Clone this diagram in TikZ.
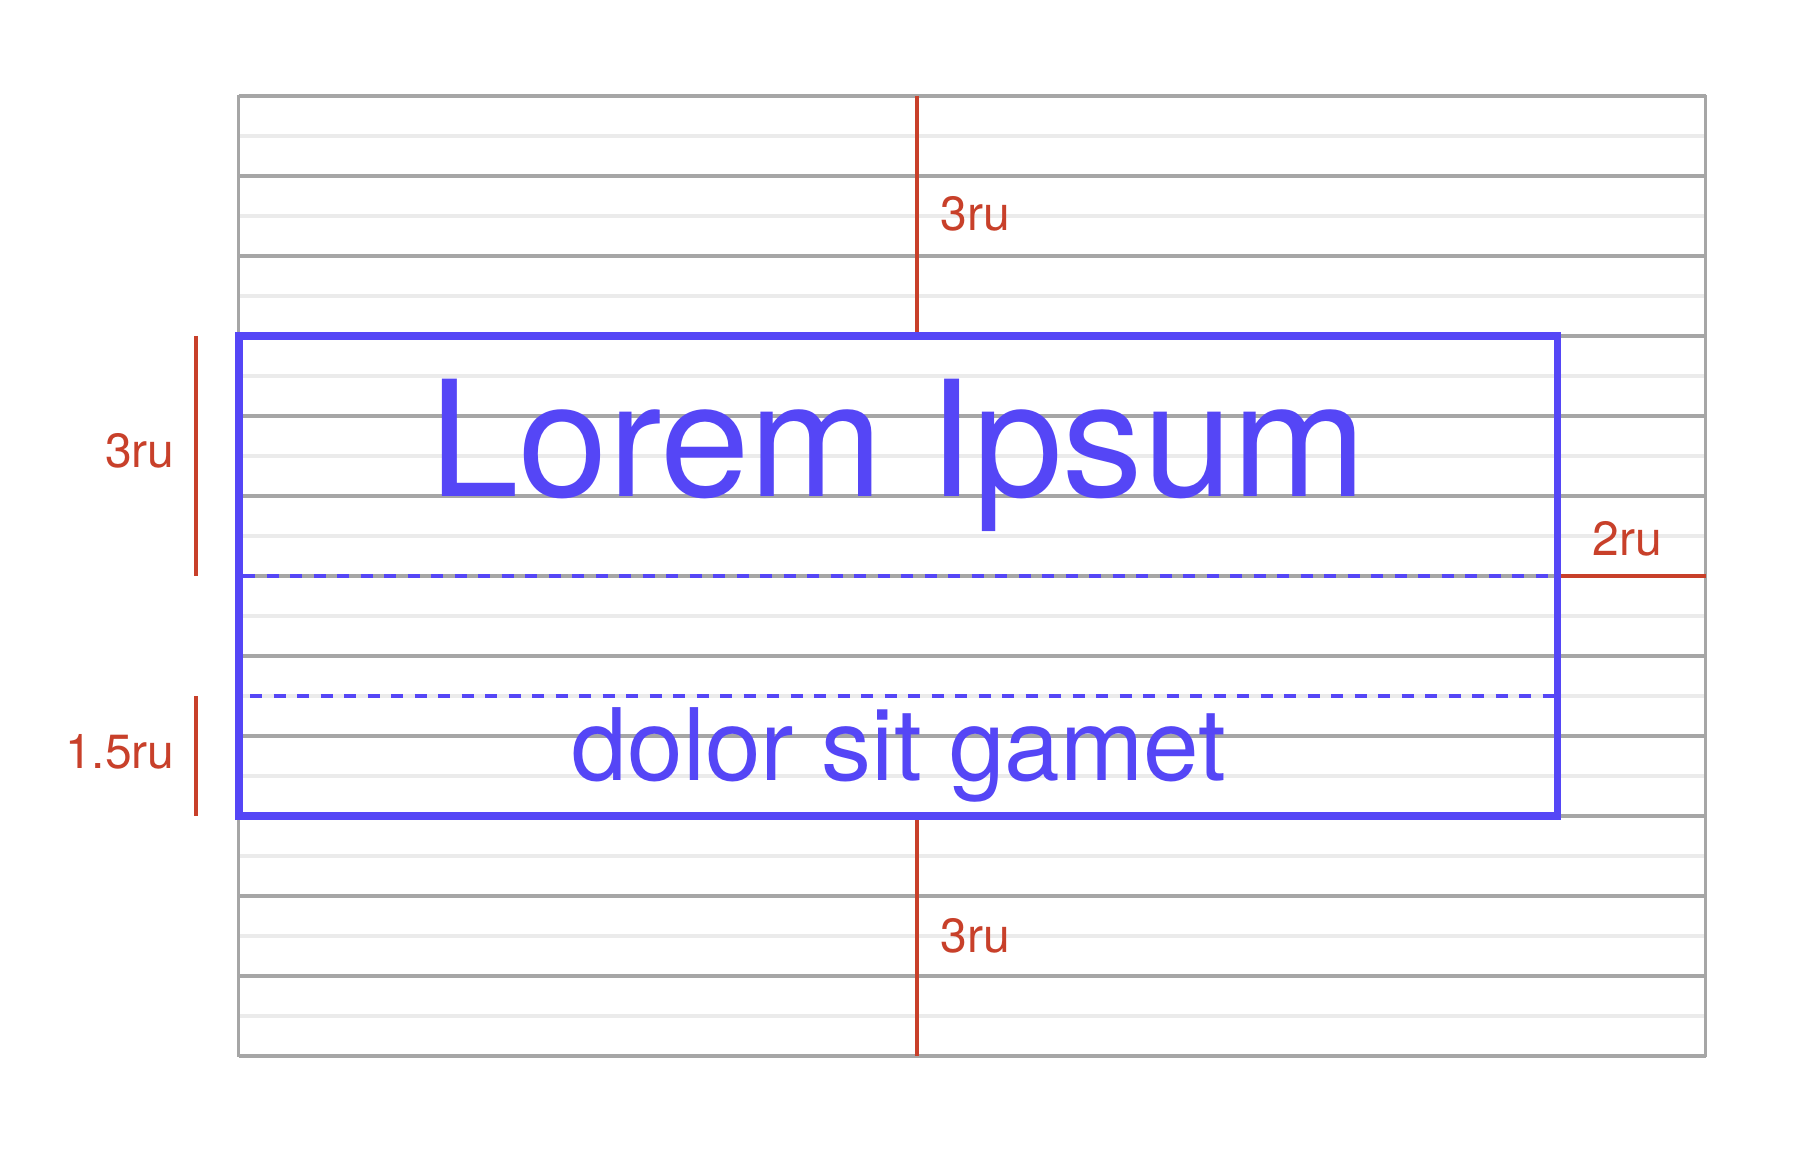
\documentclass[tikz,border=0pt]{standalone}
\usepackage{fontspec}
\setmainfont{TeX Gyre Heros}
\definecolor{gridDark}{HTML}{A6A6A6}
\definecolor{gridLight}{HTML}{EBEBEB}
\definecolor{measRed}{HTML}{C8402A}
\definecolor{boxBlue}{HTML}{5546F6}
\tikzset{
  majorline/.style={draw=gridDark, line width=1.7pt},
  minorline/.style={draw=gridLight, line width=1.7pt},
  measure/.style={draw=measRed, line width=2pt},
  measlabel/.style={text=measRed, font=\fontsize{24}{28}\selectfont, inner sep=0pt},
  textbox/.style={draw=boxBlue, line width=3.75pt},
  baseline guide/.style={draw=boxBlue, line width=1.8pt, dash pattern=on 6pt off 5.75pt},
}
\begin{document}
\begin{tikzpicture}[x=0.5pt, y=-0.5pt]
\useasboundingbox (0,0) rectangle (1802,1154);
\fill[white] (0,0) rectangle (1802,1154);
% grid
\foreach \k in {1,3,...,23} {
  \draw[minorline] (238.5,{96+40*\k}) -- (1705.7,{96+40*\k});
}
\foreach \k in {0,2,...,24} {
  \draw[majorline] (238.5,{96+40*\k}) -- (1705.7,{96+40*\k});
}
\draw[majorline] (238.5,95.2) -- (238.5,1056.8);
\draw[majorline] (1705.7,95.2) -- (1705.7,1056.8);
% coordinates
\coordinate (gridTopMid) at (916.7,96);
\coordinate (gridBotMid) at (916.7,1056);
\coordinate (gridRightBase) at (1705.7,576);
\coordinate (boxTL) at (239,336);
\coordinate (boxBR) at (1557.7,816);
\coordinate (boxTopMid) at (916.7,336);
\coordinate (boxBotMid) at (916.7,816);
\coordinate (boxRightBase) at (1557.7,576);
\coordinate (leftA) at (196,336);
\coordinate (leftB) at (196,576);
\coordinate (leftC) at (196,696);
\coordinate (leftD) at (196,816);
\coordinate (dashAstart) at (243,576);
\coordinate (dashAend) at (1554,576);
\coordinate (dashBstart) at (250,696);
\coordinate (dashBend) at (1554,696);
% baseline guides
\draw[baseline guide] (dashAstart) -- (dashAend);
\draw[baseline guide] (dashBstart) -- (dashBend);
% measurements
\draw[measure] (gridTopMid) -- (boxTopMid);
\draw[measure] (boxBotMid) -- (gridBotMid);
\draw[measure] (boxRightBase) -- (gridRightBase);
\draw[measure] (leftA) -- (leftB);
\draw[measure] (leftC) -- (leftD);
% box
\draw[textbox] (boxTL) rectangle (boxBR);
% texts
\node[anchor=base, inner sep=0pt, text=boxBlue, font=\fontsize{80.5}{90}\selectfont] (title) at (898,496) {Lorem Ipsum};
\node[anchor=base, inner sep=0pt, text=boxBlue, font=\fontsize{50}{60}\selectfont] (subtitle) at (899,780) {dolor sit gamet};
\node[measlabel, anchor=base west] (topLabel) at (940,231) {3ru};
\node[measlabel, anchor=base west] (botLabel) at (940,952) {3ru};
\node[measlabel, anchor=base east] (leftLabel) at (175,467) {3ru};
\node[measlabel, anchor=base east] (leftLabelB) at (175,768) {1.5ru};
\node[measlabel, anchor=base west] (rightLabel) at (1592,555) {2ru};
\end{tikzpicture}
\end{document}
